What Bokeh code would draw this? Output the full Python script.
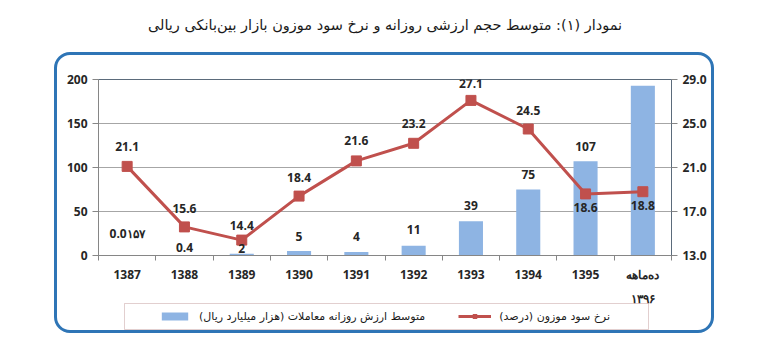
from bokeh.plotting import figure
from bokeh.layouts import column
from bokeh.models import (Range1d, LinearAxis, FixedTicker, Legend, LegendItem, Title,
                          ColumnDataSource, NumeralTickFormatter, InlineStyleSheet,
                          BoxAnnotation)
from bokeh.core.properties import value
from bokeh.embed import file_html
from bokeh.resources import INLINE

# ---------------- data ----------------
years = ["1387", "1388", "1389", "1390", "1391", "1392", "1393", "1394", "1395",
         "ده\u200cماهه\n۱۳۹۶"]
volume = [0.0157, 0.4, 2, 5, 4, 11, 39, 75, 107, 193]
volume_labels = ["0.0۱۵۷", "0.4", "2", "5", "4", "11", "39", "75", "107", "193"]
rate = [21.1, 15.6, 14.4, 18.4, 21.6, 23.2, 27.1, 24.5, 18.6, 18.8]
rate_labels = ["21.1", "15.6", "14.4", "18.4", "21.6", "23.2", "27.1", "24.5", "18.6", "18.8"]
left_ticks = [0, 50, 100, 150, 200]
right_ticks = [13, 17, 21, 25, 29]

title_text = "نمودار (۱): متوسط حجم ارزشی روزانه و نرخ سود موزون بازار بین\u200cبانکی ریالی"
legend_bar = "متوسط ارزش روزانه معاملات (هزار میلیارد ریال)"
legend_line = "نرخ سود موزون (درصد)"

# label pixel offsets (styling)
vol_off = [-22, -8, -5, -15, -15, -16, -16, -15, -15, -13]
rate_off = [-20, -18, -15, -19, -20, -20, -17, -19, 14, 14]

BAR_COLOR = "#8eb4e3"
LINE_COLOR = "#c0504d"

idx = list(range(len(years)))
src = ColumnDataSource(dict(x=idx, vol=volume, vlab=volume_labels, voff=vol_off,
                            rate=rate, rlab=rate_labels, roff=rate_off))

frame_css = InlineStyleSheet(css="""
:host { position: relative; }
:host::after {
  content: ""; position: absolute; left: 54px; top: 52px; width: 660px; height: 281px;
  border: 3px solid #2e75b6; border-radius: 16px; box-sizing: border-box;
  pointer-events: none;
}
""")

p = figure(frame_width=573, frame_height=176, output_backend="svg", toolbar_location=None,
           x_range=Range1d(-0.5, len(years) - 0.5), y_range=Range1d(0, 200),
           min_border_left=98, min_border_right=81, min_border_top=79, min_border_bottom=10,
           title=None)
p.extra_y_ranges = {"rate": Range1d(13, 29)}

# titles: spacer nearest the frame, then the real title
p.add_layout(Title(text=" ", text_font_size="26px"), "above")
p.add_layout(Title(text=title_text, align="center", text_font="DejaVu Sans",
                   text_font_style="normal", text_font_size="14.5px",
                   text_color="#1a1a1a"), "above")

p.outline_line_color = "#5b6b7b"
p.outline_line_width = 1
p.background_fill_color = "white"
p.border_fill_color = "white"

num_font = "Open Sans"

# axes
p.xaxis.ticker = FixedTicker(ticks=idx, minor_ticks=[i - 0.5 for i in range(len(years) + 1)])
p.xaxis.major_label_overrides = {i: years[i] for i in idx}
p.xaxis.major_tick_out = 0
p.xaxis.major_tick_in = 0
p.xaxis.minor_tick_out = 5
p.xaxis.minor_tick_in = 0
p.xaxis.major_label_standoff = 5
p.xaxis.major_label_text_font = num_font
p.xaxis.major_label_text_font_style = "bold"
p.xaxis.major_label_text_font_size = "12px"
p.xaxis.major_label_text_color = "#262626"
p.xaxis.major_label_text_line_height = 1.45
p.xaxis.axis_line_color = "#868686"
p.xaxis.minor_tick_line_color = "#868686"

p.yaxis.ticker = FixedTicker(ticks=left_ticks)
p.yaxis.minor_tick_line_color = None
p.yaxis.major_tick_out = 6
p.yaxis.major_tick_in = 0
p.yaxis.major_label_text_font = num_font
p.yaxis.major_label_text_font_style = "bold"
p.yaxis.major_label_text_font_size = "12px"
p.yaxis.major_label_text_color = "#262626"
p.yaxis.axis_line_color = "#868686"
p.yaxis.major_tick_line_color = "#868686"

ra = LinearAxis(y_range_name="rate", ticker=FixedTicker(ticks=right_ticks),
                formatter=NumeralTickFormatter(format="0.0"))
ra.minor_tick_line_color = None
ra.major_tick_out = 6
ra.major_tick_in = 0
ra.major_label_text_font = num_font
ra.major_label_text_font_style = "bold"
ra.major_label_text_font_size = "12px"
ra.major_label_text_color = "#262626"
ra.axis_line_color = "#5b6b7b"
ra.major_tick_line_color = "#868686"
p.add_layout(ra, "right")

p.xgrid.grid_line_color = None
p.ygrid.grid_line_color = "#a6a6a6"
p.ygrid.grid_line_width = 1

# bars
p.vbar(x="x", top="vol", width=0.42, source=src, fill_color=BAR_COLOR, line_color=None)
# line
p.line(x="x", y="rate", source=src, y_range_name="rate", line_color=LINE_COLOR, line_width=3)
p.scatter(x="x", y="rate", source=src, y_range_name="rate", marker="square",
          size=10, fill_color=LINE_COLOR, line_color=LINE_COLOR)

# labels
p.text(x="x", y="vol", text="vlab", y_offset="voff", source=src, text_align="center",
       text_baseline="middle", text_font=value(num_font), text_font_style="bold",
       text_font_size="12px", text_color="#262626")
p.text(x="x", y="rate", text="rlab", y_offset="roff", source=src, y_range_name="rate",
       text_align="center", text_baseline="middle", text_font=value(num_font),
       text_font_style="bold", text_font_size="12px", text_color="#262626")

# ---------------- legend strip (same frame columns as the chart) ----------------
lg = figure(frame_width=573, frame_height=28, output_backend="svg", toolbar_location=None,
            x_range=Range1d(0, 1), y_range=Range1d(0, 1), x_axis_type=None, y_axis_type=None,
            min_border_left=98, min_border_right=81, min_border_top=0, min_border_bottom=4,
            styles={"margin-top": "-8px"})
lg.grid.visible = False
lg.outline_line_color = None
lg.border_fill_alpha = 0
lg.background_fill_alpha = 0

# legend box
lg.add_layout(BoxAnnotation(left=26, right=550, bottom=1, top=27,
                            left_units="screen", right_units="screen",
                            top_units="screen", bottom_units="screen",
                            fill_alpha=0, line_color="#a06060", line_width=1))

nan = float("nan")
empty = ColumnDataSource(dict(x=[nan], y=[nan]))
lbar = lg.vbar(x="x", top="y", width=0.1, source=empty, fill_color=BAR_COLOR, line_color=None)
lline = lg.line(x="x", y="y", source=empty, line_color=LINE_COLOR, line_width=3)
lmark = lg.scatter(x="x", y="y", source=empty, marker="square", size=8,
                   fill_color=LINE_COLOR, line_color=LINE_COLOR)

legend = Legend(items=[LegendItem(label=legend_bar, renderers=[lbar]),
                       LegendItem(label=legend_line, renderers=[lline, lmark])],
                orientation="horizontal", location=(60, 6),
                glyph_width=33, glyph_height=10, label_standoff=8, spacing=33,
                padding=0, margin=0, border_line_alpha=0, background_fill_alpha=0,
                label_text_font="DejaVu Sans", label_text_font_size="11px",
                label_text_color="#1a1a1a", label_height=16)
lg.add_layout(legend)

layout = column(p, lg, stylesheets=[frame_css])

open("out.html", "w").write(file_html(layout, INLINE))
